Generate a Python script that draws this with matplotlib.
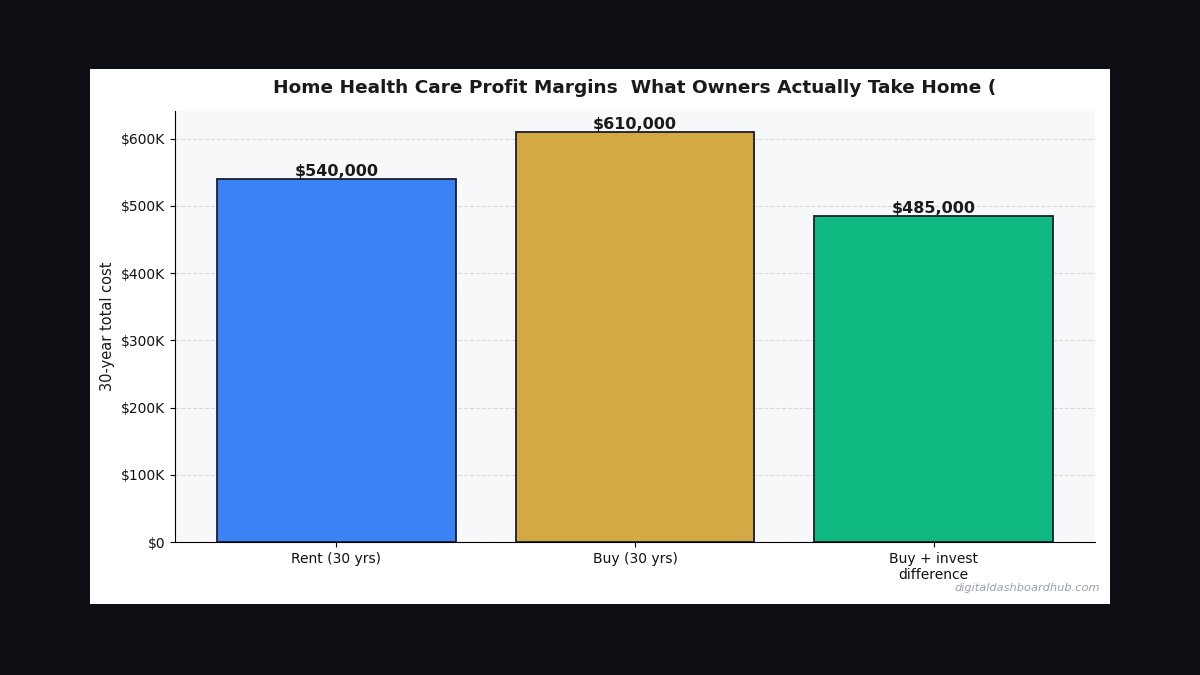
import matplotlib
matplotlib.use("Agg")
import matplotlib.pyplot as plt
from matplotlib.patches import Rectangle
from matplotlib.ticker import FuncFormatter

# data
categories = ["Rent (30 yrs)", "Buy (30 yrs)", "Buy + invest\ndifference"]
costs = [540000, 610000, 485000]
colors = ["#3b82f6", "#d4a843", "#10b981"]

fig = plt.figure(figsize=(12, 6.75), dpi=100, facecolor="#0d0f14")
# white card behind the chart
fig.patches.append(Rectangle((90/1200, 1-604/675), 1020/1200, 535/675,
                             transform=fig.transFigure, facecolor="white",
                             edgecolor="none", zorder=-1))

ax = fig.add_axes([175/1200, 1-542/675, 920/1200, 431/675])
ax.set_facecolor("#f7f8fa")

bars = ax.bar(range(len(categories)), costs, width=0.8, color=colors,
              edgecolor="#1a1d2e", linewidth=1.3, zorder=3)
for b, v in zip(bars, costs):
    ax.text(b.get_x() + b.get_width()/2, v, f"${v:,.0f}", ha="center",
            va="bottom", fontsize=11.5, fontweight="bold", color="#1a1a1a", zorder=4)

ax.set_xticks(range(len(categories)))
ax.set_xticklabels(categories, fontsize=10, color="#111111")
ax.set_ylim(0, 641000)
ax.yaxis.set_major_formatter(FuncFormatter(lambda x, p: f"${x/1000:.0f}K" if x else "$0"))
ax.tick_params(axis="y", labelsize=10, labelcolor="#111111")
ax.set_ylabel("30-year total cost", fontsize=10.5, color="#1a1a1a")
ax.grid(axis="y", linestyle="--", color="#d6d9e0", linewidth=0.8, zorder=0)
ax.spines["top"].set_visible(False)
ax.spines["right"].set_visible(False)

ax.set_title("Home Health Care Profit Margins  What Owners Actually Take Home (",
             fontsize=13.3, fontweight="bold", color="#1a1a1a", pad=13)

fig.text(1100/1200, 1-588/675, "digitaldashboardhub.com", ha="right", va="center",
         fontsize=8.2, style="italic", color="#9a9fae")

fig.savefig("out.png", dpi=100, facecolor=fig.get_facecolor())
